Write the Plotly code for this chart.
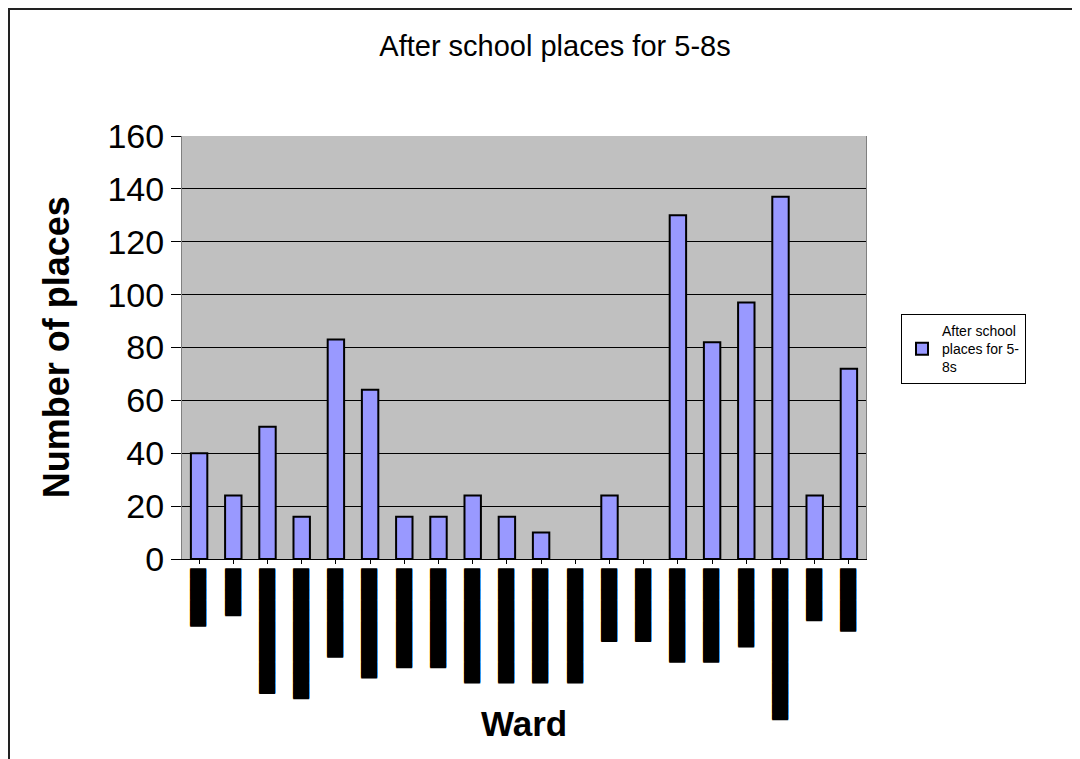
import plotly.graph_objects as go

# ---- data ----
ward_labels = [
    "▐" + "█" * 5,
    "▐" + "█" * 4,
    "█" * 12,
    "▐" + "█" * 12,
    "▐" + "█" * 8,
    "▐" + "█" * 10,
    "▐" + "█" * 9,
    "▐" + "█" * 9,
    "█" * 11,
    "█" * 11,
    "█" * 11,
    "█" * 11,
    "█" * 7,
    "█" * 7,
    "█" * 9,
    "█" * 9,
    "▐" + "█" * 7,
    "▐" + "█" * 14,
    "█" * 5,
    "█" * 6,
]
places = [40, 24, 50, 16, 83, 64, 16, 16, 24, 16, 10, 0, 24, 0, 130, 82, 97, 137, 24, 72]
series_name = "After school<br>places for 5-<br>8s"
chart_title = "After school places for 5-8s"
y_title = "Number of places"
x_title = "Ward"
y_ticks = [0, 20, 40, 60, 80, 100, 120, 140, 160]

categories = list(range(len(places)))

FONT = "Liberation Sans, Arial, sans-serif"

# page body adds an 8px offset; compensate in margins
L, T, PW, PH = 174, 128, 684, 423

fig = go.Figure()
fig.add_trace(go.Bar(
    x=categories,
    y=places,
    name=series_name,
    marker=dict(color="#9999FF",
                line=dict(color="#000000", width=[0 if v == 0 else 2 for v in places])),
    showlegend=True,
))

fig.update_layout(
    width=1080,
    height=759,
    margin=dict(l=L, r=1080 - L - PW, t=T, b=759 - T - PH, autoexpand=False),
    paper_bgcolor="#FFFFFF",
    plot_bgcolor="#C0C0C0",
    bargap=0.52,
    font=dict(family=FONT, color="#000000"),
    title=dict(
        text=chart_title,
        x=547 / 1080, xref="container", xanchor="center",
        y=1 - 38 / 759, yref="container", yanchor="middle",
        font=dict(family=FONT, size=29, color="#000000"),
    ),
    legend=dict(
        x=(901 - 182) / PW, xanchor="left",
        y=(559 - 314) / PH, yanchor="top",
        bordercolor="#000000", borderwidth=1,
        bgcolor="#FFFFFF",
        font=dict(family=FONT, size=14, color="#000000"),
        itemwidth=30,
    ),
    xaxis=dict(
        tickmode="array",
        tickvals=categories,
        ticktext=ward_labels,
        tickangle=-90,
        tickfont=dict(family="DejaVu Sans", size=13.5, color="#000000",
                      shadow="1px 0px 0px #000000"),
        tickson="boundaries",
        ticks="outside",
        ticklen=4,
        tickcolor="#000000",
        showline=True,
        linecolor="#000000",
        linewidth=1,
        mirror=False,
        showgrid=False,
        range=[-0.5, len(places) - 0.5],
        zeroline=False,
        automargin=False,
    ),
    yaxis=dict(
        range=[0, 160],
        tickmode="array",
        tickvals=y_ticks,
        ticktext=[str(v) for v in y_ticks],
        tickfont=dict(family=FONT, size=34, color="#000000"),
        ticks="outside",
        ticklen=10,
        tickcolor="#000000",
        showline=True,
        linecolor="#808080",
        linewidth=1,
        mirror=True,
        showgrid=True,
        gridcolor="#000000",
        gridwidth=1,
        zeroline=False,
        automargin=False,
    ),
    annotations=[
        dict(
            text="<b>%s</b>" % y_title,
            x=-0.183, xref="paper", xanchor="center",
            y=0.5, yref="paper", yanchor="middle",
            textangle=-90, showarrow=False,
            font=dict(family=FONT, size=36, color="#000000"),
        ),
        dict(
            text="<b>%s</b>" % x_title,
            x=0.5, xref="paper", xanchor="center",
            y=(559 - 723) / PH, yref="paper", yanchor="middle",
            showarrow=False,
            font=dict(family=FONT, size=35, color="#000000"),
        ),
    ],
    shapes=[
        dict(
            type="rect", xref="paper", yref="paper",
            x0=(1 - L) / PW, x1=(1090 - L) / PW,
            y0=(T + PH - 775) / PH, y1=(T + PH - 1) / PH,
            line=dict(color="#222222", width=2),
            fillcolor="rgba(0,0,0,0)",
            layer="below",
        ),
    ],
)

fig.write_html("out.html")
